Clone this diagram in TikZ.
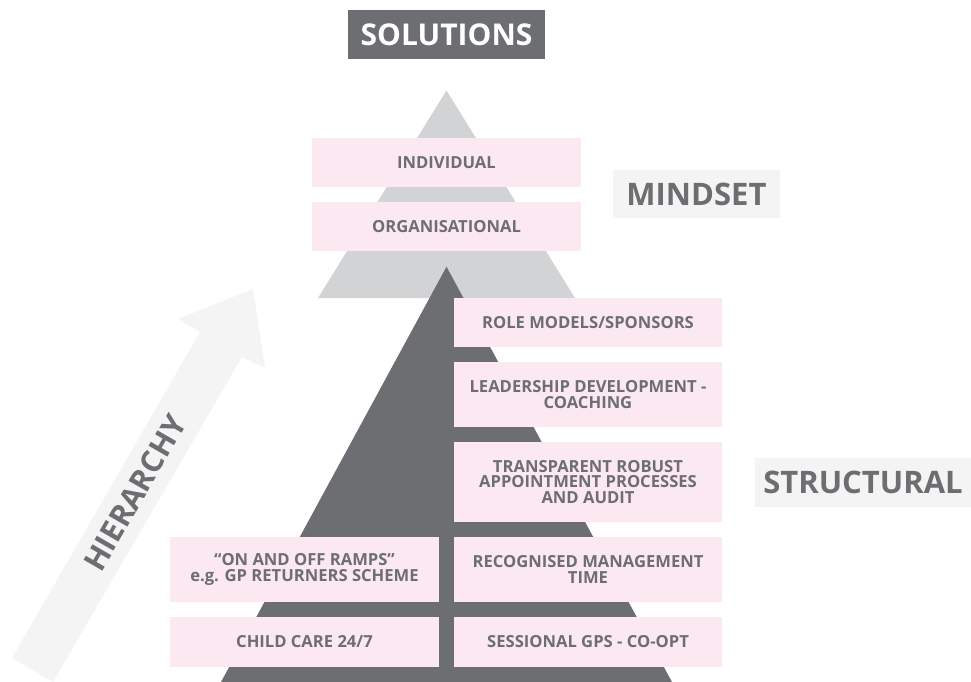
\documentclass[tikz,border=0pt]{standalone}
\usepackage{fontspec}
\setmainfont{Open Sans}
\definecolor{dgray}{RGB}{109,110,113}
\definecolor{lgray}{RGB}{209,211,212}
\definecolor{pinkbox}{RGB}{252,232,241}
\definecolor{palegray}{RGB}{244,244,244}
\begin{document}
\begin{tikzpicture}[x=1pt,y=-1pt,
  box/.style={fill=pinkbox, inner sep=0pt, align=center, text=dgray,
    font=\bfseries\fontsize{16.6}{15.8}\selectfont},
  tag/.style={fill=palegray, inner sep=0pt, text=dgray,
    font=\bfseries\fontsize{31}{33}\selectfont}]
\useasboundingbox (0,0) rectangle (971,682);
% arrow
\fill[palegray] (12,658) -- (200,332) -- (178,319) -- (253,289) -- (265,368) -- (242,357) -- (53,682) -- cycle;
\node[rotate=60, text=dgray, font=\bfseries\fontsize{30.5}{32}\selectfont] (hier) at (135,493) {HIERARCHY};
% pyramids
\fill[lgray] (446.5,90.5) -- (575,298) -- (318,298) -- cycle;
\fill[dgray] (446.5,266.7) -- (672,682) -- (221,682) -- cycle;
% title
\node[fill=dgray, text=white, inner sep=0pt, minimum width=197, minimum height=49,
  font=\bfseries\fontsize{30}{32}\selectfont] (sol) at (446.5,34.5) {SOLUTIONS};
% top boxes
\node[box, minimum width=269, minimum height=49] (ind) at (446.5,162.5) {INDIVIDUAL};
\node[box, minimum width=269, minimum height=49] (org) at (446.5,226.5) {ORGANISATIONAL};
% right column
\node[box, minimum width=268, minimum height=49] (rm) at (588,322.5) {ROLE MODELS/SPONSORS};
\node[box, minimum width=268, minimum height=65] (ld) at (588,394.5) {LEADERSHIP DEVELOPMENT -\\COACHING};
\node[box, minimum width=268, minimum height=80] (tr) at (588,482) {TRANSPARENT ROBUST\\APPOINTMENT PROCESSES\\AND AUDIT};
\node[box, minimum width=268, minimum height=65] (rg) at (588,569.5) {RECOGNISED MANAGEMENT\\TIME};
\node[box, minimum width=268, minimum height=50] (sg) at (588,642) {SESSIONAL GPS - CO-OPT};
% left column
\node[box, minimum width=269, minimum height=65] (ramps) at (304.5,569.5) {“ON AND OFF RAMPS”\\e.g. GP RETURNERS SCHEME};
\node[box, minimum width=269, minimum height=50] (cc) at (304.5,642) {CHILD CARE 24/7};
% labels
\node[tag, minimum width=167, minimum height=48] (mind) at (696.5,194) {MINDSET};
\node[tag, minimum width=216, minimum height=49] (struct) at (863,482.5) {STRUCTURAL};
\end{tikzpicture}
\end{document}
